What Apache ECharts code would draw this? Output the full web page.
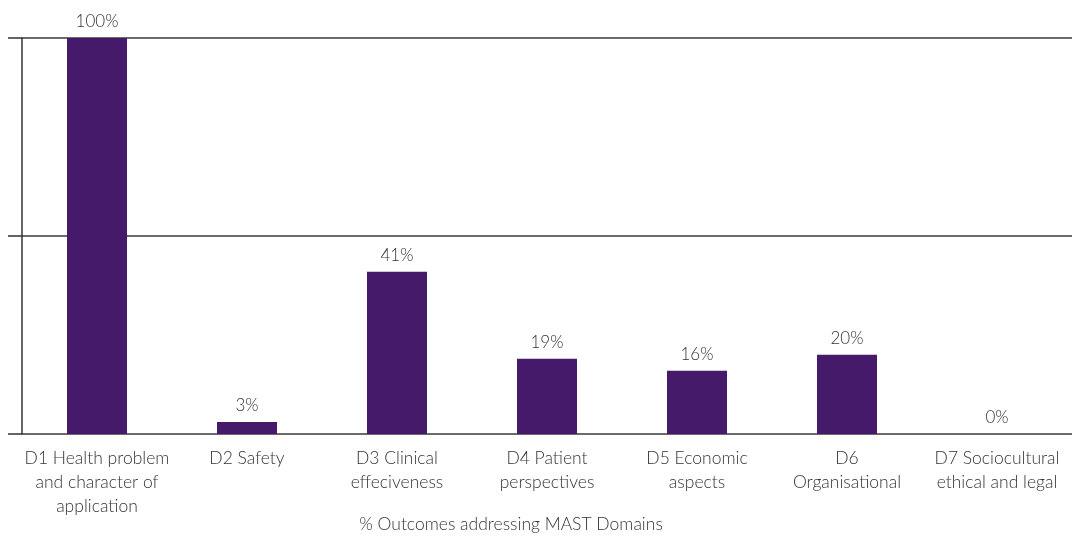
<!DOCTYPE html>
<html><head><meta charset="utf-8">
<script src="https://cdn.jsdelivr.net/npm/echarts@6/dist/echarts.min.js"></script>
<style>html,body{margin:0;padding:0;background:#fff}#c{width:1073px;height:539px}</style>
</head><body><div id="c"></div>
<script>
const categories = ["D1 Health problem\nand character of\napplication","D2 Safety","D3 Clinical\neffeciveness","D4 Patient\nperspectives","D5 Economic\naspects","D6\nOrganisational","D7 Sociocultural\nethical and legal"];
const values = [100, 3, 41, 19, 16, 20, 0];
const axisTitle = "% Outcomes addressing MAST Domains";
const chart = echarts.init(document.getElementById('c'));
const font = "Lato, 'Open Sans', sans-serif";
chart.setOption({
  animation:false,
  grid:{left:22,right:1,top:38,bottom:105,containLabel:false},
  xAxis:{type:'category',data:categories,
    axisLine:{show:false},axisTick:{show:false},
    axisLabel:{interval:0,margin:12,color:'#333',fontFamily:font,fontSize:17.5,lineHeight:24,fontWeight:300}},
  yAxis:{type:'value',min:0,max:100,interval:50,
    axisLine:{show:true,lineStyle:{color:'#333',width:1.5}},
    axisTick:{show:true,length:14,lineStyle:{color:'#333',width:1.5}},
    axisLabel:{show:false},
    splitLine:{show:true,lineStyle:{color:'#3a3a3a',width:1.5}}},
  series:[{type:'bar',data:values,barWidth:60,
    itemStyle:{color:'#451a6b'},
    label:{show:true,position:'top',distance:8,formatter:'{c}%',color:'#333',fontFamily:font,fontSize:17,fontWeight:300}}],
  graphic:[{type:'text',x:511,y:515,style:{text:axisTitle,fill:'#333',align:'center',font:'300 17.5px '+font}}]
});
</script></body></html>
